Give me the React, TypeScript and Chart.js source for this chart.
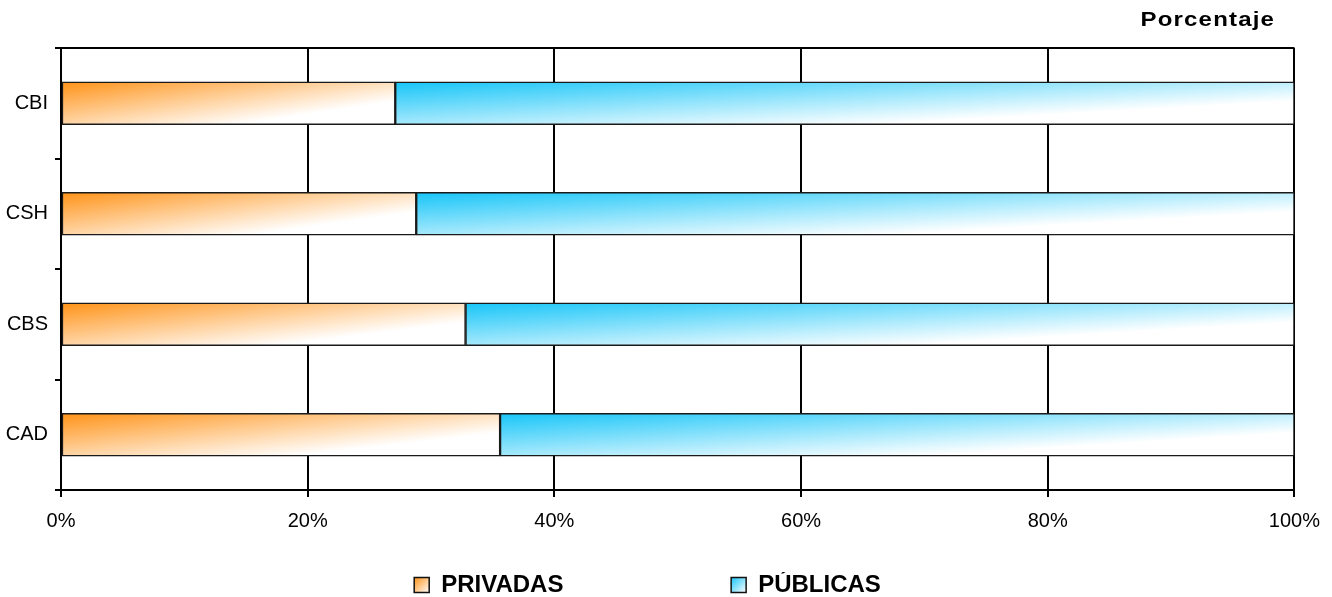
import React, { useEffect, useRef } from 'react';
import { Chart, registerables } from 'chart.js';

Chart.register(...registerables);

const categories = ['CBI', 'CSH', 'CBS', 'CAD'];
const privadas = [27.1, 28.8, 32.8, 35.6];
const publicas = [72.9, 71.2, 67.2, 64.4];
const seriesNames = ['PRIVADAS', 'PÚBLICAS'];
const xTickStep = 20;
const axisTitle = 'Porcentaje';

const FONT = '"Liberation Sans", Arial, Helvetica, sans-serif';
const ORANGE = 'rgb(255,146,22)';
const BLUE = 'rgb(22,197,248)';
const BAR_THICKNESS = 43;
const LEGEND_FONT = 24;
const LEGEND_BOX = 15;

function barGradient(c: CanvasRenderingContext2D, x0: number, y0: number, W: number, H: number, color: string) {
  const a = 0.72 / W;
  const b = 0.62 / H;
  const d = a * a + b * b;
  const g = c.createLinearGradient(x0, y0, x0 + a / d, y0 + b / d);
  g.addColorStop(0, color);
  g.addColorStop(1, '#ffffff');
  return g;
}

function makeBg(datasetIndex: number, color: string) {
  return (ctx: any) => {
    if (ctx.type !== 'data') return color;
    const chart = ctx.chart;
    const xs = chart.scales && chart.scales.x;
    const ys = chart.scales && chart.scales.y;
    if (!xs || !ys) return color;
    const i = ctx.dataIndex;
    const start = datasetIndex === 0 ? 0 : privadas[i];
    const end = start + (datasetIndex === 0 ? privadas[i] : publicas[i]);
    const x0 = xs.getPixelForValue(start);
    const x1 = xs.getPixelForValue(end);
    const yc = ys.getPixelForValue(i);
    if (![x0, x1, yc].every((v) => Number.isFinite(v)) || x1 - x0 <= 0) return color;
    return barGradient(chart.ctx, x0, yc - BAR_THICKNESS / 2, x1 - x0, BAR_THICKNESS, color);
  };
}

const framePlugin = {
  id: 'frameAndTitle',
  beforeDraw(chart: any) {
    const lg = chart.legend;
    if (lg && lg.legendItems && lg.legendHitBoxes) {
      lg.legendItems.forEach((it: any, i: number) => {
        const hb = lg.legendHitBoxes[i];
        if (!hb) return;
        const top = hb.top + Math.max((LEGEND_FONT - LEGEND_BOX) / 2, 0);
        const g = chart.ctx.createLinearGradient(hb.left, top, hb.left + LEGEND_BOX, top + LEGEND_BOX);
        g.addColorStop(0, i === 0 ? ORANGE : BLUE);
        g.addColorStop(1, '#ffffff');
        it.fillStyle = g;
      });
    }
  },
  beforeDatasetsDraw(chart: any) {
    const { ctx, chartArea } = chart;
    ctx.save();
    ctx.strokeStyle = '#000';
    ctx.lineWidth = 2;
    ctx.beginPath();
    ctx.moveTo(chartArea.left, chartArea.top);
    ctx.lineTo(chartArea.right, chartArea.top);
    ctx.stroke();
    ctx.restore();
  },
  afterDraw(chart: any) {
    const { ctx, chartArea } = chart;
    ctx.save();
    ctx.font = `bold 20px ${FONT}`;
    ctx.fillStyle = '#000';
    ctx.textAlign = 'left';
    ctx.textBaseline = 'alphabetic';
    (ctx as any).letterSpacing = '1px';
    ctx.translate(chartArea.right - 154, 26);
    ctx.scale(1.2, 1);
    ctx.fillText(axisTitle, 0, 0);
    ctx.restore();
  },
};

export default function App() {
  const ref = useRef<HTMLCanvasElement | null>(null);

  useEffect(() => {
    if (!ref.current) return;
    Chart.defaults.font.family = FONT;
    const chart = new Chart(ref.current, {
      type: 'bar',
      data: {
        labels: categories,
        datasets: [
          {
            label: seriesNames[0],
            data: privadas,
            backgroundColor: makeBg(0, ORANGE),
            borderColor: '#1a1a1a',
            borderWidth: 1.5,
            borderSkipped: false,
            barThickness: BAR_THICKNESS,
          },
          {
            label: seriesNames[1],
            data: publicas,
            backgroundColor: makeBg(1, BLUE),
            borderColor: '#1a1a1a',
            borderWidth: 1.5,
            borderSkipped: false,
            barThickness: BAR_THICKNESS,
          },
        ],
      },
      options: {
        indexAxis: 'y',
        responsive: false,
        animation: false,
        events: [],
        devicePixelRatio: 1,
        layout: { padding: { left: 0, right: 37, top: 48, bottom: 0 } },
        scales: {
          x: {
            stacked: true,
            min: 0,
            max: 100,
            afterFit: (s: any) => {
              s.height = 82;
            },
            ticks: {
              stepSize: xTickStep,
              color: '#000',
              font: { size: 20 },
              padding: 12,
              callback: (v: any) => `${v}%`,
            },
            grid: { color: '#000', lineWidth: 2, tickLength: 7, drawTicks: true },
            border: { display: true, color: '#000', width: 2 },
          },
          y: {
            stacked: true,
            afterFit: (s: any) => {
              s.width = 61;
            },
            ticks: { color: '#000', font: { size: 20 }, padding: 7 },
            grid: {
              offset: true,
              drawOnChartArea: false,
              drawTicks: true,
              tickLength: 6,
              color: '#000',
              lineWidth: 2,
            },
            border: { display: true, color: '#000', width: 2 },
          },
        },
        plugins: {
          title: { display: false },
          tooltip: { enabled: false },
          legend: {
            display: true,
            position: 'bottom',
            maxHeight: 25,
            labels: {
              boxWidth: LEGEND_BOX,
              boxHeight: LEGEND_BOX,
              padding: 1,
              color: '#000',
              font: { size: LEGEND_FONT, weight: 'bold' },
              generateLabels: () =>
                seriesNames.map((n, i) => ({
                  text: i === 0 ? n + '\u00A0'.repeat(25) : n,
                  fillStyle: i === 0 ? ORANGE : BLUE,
                  strokeStyle: '#111',
                  lineWidth: 1.5,
                  hidden: false,
                  datasetIndex: i,
                })),
            },
          },
        },
      },
      plugins: [framePlugin],
    } as any);
    return () => chart.destroy();
  }, []);

  return (
    <div style={{ position: 'fixed', left: 0, top: 0, width: 1332, height: 597, background: '#fff' }}>
      <canvas ref={ref} width={1332} height={597} style={{ display: 'block', width: 1332, height: 597 }} />
    </div>
  );
}
